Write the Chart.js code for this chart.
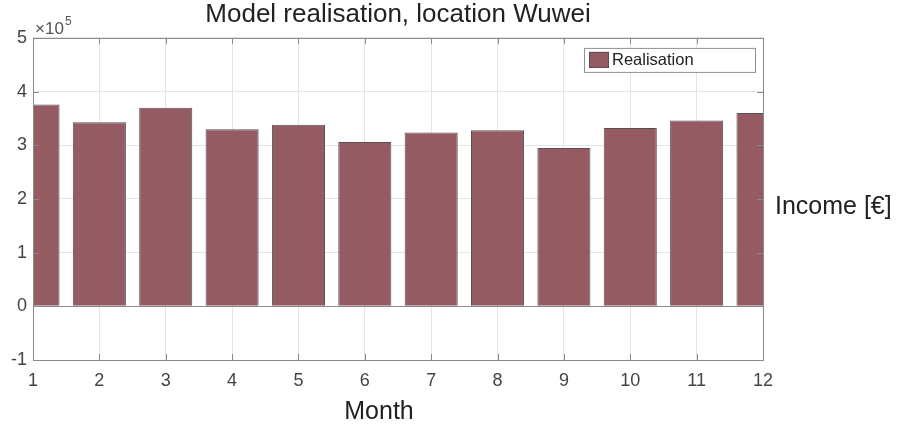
<!DOCTYPE html>
<html>
<head>
<meta charset="utf-8">
<script src="https://cdn.jsdelivr.net/npm/chart.js@4/dist/chart.umd.min.js"></script>
<style>
    html, body { margin:0; padding:0; background:#ffffff; }
    #contenedor { width:900px; height:429px; }
</style>
</head>
<body>
<div id="contenedor">
    <canvas id="graficoIngresos"></canvas>
</div>
<script>

const meses =
[1,2,3,4,5,6,7,8,9,10,11,12];

const ingresos =
[376000,343000,370000,330000,338000,306000,324000,328000,295000,332000,346000,360000];

const ticksY =
[-1,0,1,2,3,4,5];

const escala = 1e5;

const fuente = "'Liberation Sans', Arial, sans-serif";

const colorBarra = "#955b63";

const extras = {

    id:"extras",

    afterDraw(chart){

        const ctx = chart.ctx;
        const area = chart.chartArea;
        const x = chart.scales.x;
        const y = chart.scales.y;

        ctx.save();

        // caja y ticks hacia dentro
        ctx.strokeStyle = "#8a8a8a";
        ctx.lineWidth = 1;
        ctx.strokeRect(
            Math.round(area.left) + 0.5,
            Math.round(area.top) + 0.5,
            Math.round(area.right - area.left),
            Math.round(area.bottom - area.top)
        );

        ctx.beginPath();
        meses.forEach(m => {
            const px = Math.round(x.getPixelForValue(m)) + 0.5;
            ctx.moveTo(px, area.bottom);
            ctx.lineTo(px, area.bottom - 6);
            ctx.moveTo(px, area.top);
            ctx.lineTo(px, area.top + 6);
        });
        ticksY.forEach(t => {
            const py = Math.round(y.getPixelForValue(t * escala)) + 0.5;
            ctx.moveTo(area.left, py);
            ctx.lineTo(area.left + 6, py);
            ctx.moveTo(area.right, py);
            ctx.lineTo(area.right - 6, py);
        });
        ctx.stroke();

        // x10^5
        ctx.fillStyle = "#555";
        ctx.textBaseline = "alphabetic";
        ctx.textAlign = "left";
        ctx.font = "17px " + fuente;
        ctx.fillText("\u00d710", area.left + 2, area.top - 4);
        ctx.font = "12px " + fuente;
        ctx.fillText("5", area.left + 32, area.top - 13);

        // leyenda
        const ds = chart.data.datasets[0];
        const lx = area.right - 179;
        const ly = area.top + 10;
        ctx.fillStyle = "#ffffff";
        ctx.fillRect(lx, ly, 171, 24);
        ctx.strokeStyle = "#8f8f8f";
        ctx.strokeRect(lx + 0.5, ly + 0.5, 171, 24);
        ctx.fillStyle = ds.backgroundColor;
        ctx.fillRect(lx + 5, ly + 4, 20, 16);
        ctx.strokeStyle = "#5a5050";
        ctx.strokeRect(lx + 5.5, ly + 4.5, 19, 15);
        ctx.fillStyle = "#222";
        ctx.font = "16.5px " + fuente;
        ctx.textBaseline = "middle";
        ctx.fillText(ds.label, lx + 28, ly + 13);

        // titulos de ejes
        ctx.font = "25px " + fuente;
        ctx.fillStyle = "#222";
        ctx.textAlign = "left";
        ctx.fillText("Income [\u20ac]", area.right + 12, (area.top + area.bottom) / 2 + 8);
        ctx.textAlign = "center";
        ctx.fillText("Month", (area.left + area.right) / 2 - 19, area.bottom + 52);

        ctx.restore();

    }

};

new Chart(

    document.getElementById(
        "graficoIngresos"
    ),

    {

        type:"bar",

        data:{

            datasets:[{

                label:"Realisation",

                data:
                meses.map(
                    (m, i) => ({ x:m, y:ingresos[i] })
                ),

                backgroundColor:colorBarra,
                borderColor:"#5a5050",
                borderWidth:1,
                barPercentage:0.8,
                categoryPercentage:1,
                clip:0

            }]

        },

        options:{

            responsive:true,
            maintainAspectRatio:false,
            animation:false,

            layout:{
                padding:{ top:0, right:137, bottom:0, left:0 }
            },

            plugins:{

                legend:{ display:false },
                tooltip:{ enabled:false },

                title:{
                    display:true,
                    text:"Model realisation, location Wuwei",
                    fullSize:false,
                    color:"#222",
                    font:{ family:fuente, size:26, weight:"normal", lineHeight:1.15 },
                    padding:{ top:0, bottom:8 }
                }

            },

            scales:{

                x:{
                    type:"linear",
                    min:1,
                    max:12,
                    offset:false,
                    afterFit(s){ s.height = 69; },
                    ticks:{
                        stepSize:1,
                        color:"#444",
                        padding:10,
                        font:{ family:fuente, size:18 }
                    },
                    grid:{
                        offset:false,
                        color:"#e4e4e4",
                        drawTicks:false
                    },
                    border:{ display:false }
                },

                y:{
                    min:-1 * escala,
                    max:5 * escala,
                    afterFit(s){ s.width = 33; },
                    ticks:{
                        stepSize:escala,
                        color:"#444",
                        padding:6,
                        font:{ family:fuente, size:18 },
                        callback:v => v / escala
                    },
                    grid:{
                        color:c => c.tick && c.tick.value === 0 ? "#8a8a8a" : "#e4e4e4",
                        drawTicks:false
                    },
                    border:{ display:false }
                }

            }

        },

        plugins:[extras]

    }

);

</script>
</body>
</html>
